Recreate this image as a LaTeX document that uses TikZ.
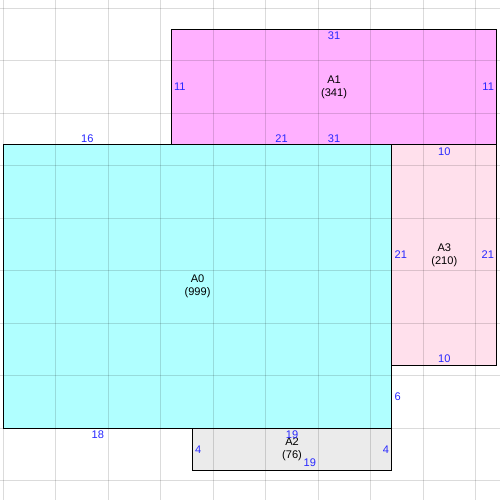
\documentclass[tikz,border=0pt]{standalone}
\usepackage{fontspec}
\setmainfont{Liberation Sans}
\usetikzlibrary{positioning}
\definecolor{cyanarea}{RGB}{176,255,255}
\definecolor{magentaarea}{RGB}{255,176,255}
\definecolor{pinkarea}{RGB}{255,224,236}
\definecolor{grayarea}{RGB}{235,235,235}
\definecolor{edgeblue}{RGB}{40,40,255}
\begin{document}
\begin{tikzpicture}[x=0.35cm,y=-0.35cm,
    gridline/.style={black,opacity=0.14,line width=0.9pt},
    border/.style={black,line width=0.9pt},
    edgelbl/.style={text=edgeblue,inner sep=0pt,font=\fontsize{10.5}{12}\selectfont},
    arealbl/.style={align=center,inner sep=0pt,font=\fontsize{10.5}{12}\selectfont}]
        \useasboundingbox (-0.314,-0.79) rectangle (47.3,46.83);
        \fill[white] (-0.314,-0.79) rectangle (47.3,46.83);
        % areas
        \fill[magentaarea] (16,2) rectangle (47,13);
        \fill[cyanarea] (0,13) rectangle (37,40);
        \fill[pinkarea] (37,13) rectangle (47,34);
        \fill[grayarea] (18,40) rectangle (37,44);
        \foreach \g in {0,5,...,45} {
            \draw[gridline] (\g,-0.79) -- (\g,46.83);
            \draw[gridline] (-0.314,\g) -- (47.3,\g);
        }
        \draw[border] (16,2) rectangle (47,13);
        \draw[border] (0,13) rectangle (37,40);
        \draw[border] (37,13) rectangle (47,34);
        \draw[border] (18,40) rectangle (37,44);
        % area names
        \node[arealbl] (a0) at (18.5,26.5) {A0\\(999)};
        \node[arealbl] (a1) at (31.5,7.5) {A1\\(341)};
        \node[arealbl] (a2) at (27.5,42) {A2\\(76)};
        \node[arealbl] (a3) at (42,23.5) {A3\\(210)};
        % edge lengths
        \node[edgelbl] (a0top) at (8,12.4) {16};
        \node[edgelbl] (a0bot) at (9,40.6) {18};
        \node[edgelbl,anchor=west] (a0right) at (37.25,37) {6};
        \node[edgelbl] (a1top) at (31.5,2.65) {31};
        \node[edgelbl] (a1bot) at (31.5,12.4) {31};
        \node[edgelbl] (a1botin) at (26.5,12.4) {21};
        \node[edgelbl,anchor=west] (a1left) at (16.25,7.5) {11};
        \node[edgelbl,anchor=east] (a1right) at (46.75,7.5) {11};
        \node[edgelbl] (a3top) at (42,13.7) {10};
        \node[edgelbl] (a3bot) at (42,33.4) {10};
        \node[edgelbl,anchor=west] (a3left) at (37.25,23.5) {21};
        \node[edgelbl,anchor=east] (a3right) at (46.75,23.5) {21};
        \node[edgelbl] (a2top) at (27.5,40.65) {19};
        \node[edgelbl] (a2bot) at (29.2,43.3) {19};
        \node[edgelbl,anchor=west] (a2left) at (18.25,42) {4};
        \node[edgelbl,anchor=east] (a2right) at (36.75,42) {4};
\end{tikzpicture}
\end{document}
